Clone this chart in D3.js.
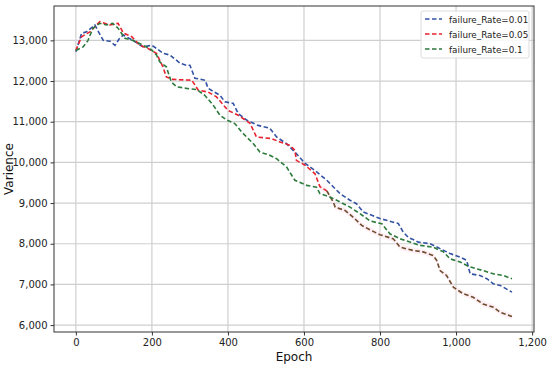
<!DOCTYPE html>
<html><head><meta charset="utf-8">
<script src="https://cdn.jsdelivr.net/npm/d3@7"></script>
<style>body{margin:0;background:#fff}svg{display:block}text{font-family:"DejaVu Sans",sans-serif}</style>
</head><body><svg id="c" width="550" height="367"></svg>
<script>
const xTicks=[0,200,400,600,800,1000,1200];
const yTicks=[6000,7000,8000,9000,10000,11000,12000,13000];
const seriesNames=["failure_Rate=0.01","failure_Rate=0.05","failure_Rate=0.1"];
const epochs01=[0,15,28,50,60,72,90,103,115,125,150,177,200,230,247,274,290,300,313,340,348,379,392,414,427,449,479,510,528,554,576,603,629,660,695,721,738,756,800,835,848,861,874,901,932,958,984,1011,1028,1037,1063,1081,1098,1116,1147];
const values01=[12720,13170,13210,13380,13200,13000,12980,12880,13050,13130,13000,12840,12880,12680,12640,12440,12390,12390,12070,12020,11820,11650,11490,11450,11200,11040,10910,10840,10625,10460,10255,9975,9800,9560,9230,9070,8985,8780,8620,8530,8500,8285,8160,8040,8000,7880,7760,7670,7590,7260,7220,7140,7015,6975,6810];
const epochs05=[0,15,37,63,89,111,125,147,168,190,212,229,238,255,305,322,348,370,400,427,458,475,515,537,563,576,580,603,629,642,660,677,682,708,729,752,774,800,835,853,887,913,940,949,958,975,993,1019,1045,1071,1098,1116,1147];
const values05=[12750,13090,13210,13460,13380,13420,13180,13090,12880,12800,12680,12350,12100,12040,12020,11775,11730,11610,11280,11160,10960,10625,10585,10500,10420,10300,10050,9930,9720,9400,9300,9025,8900,8820,8655,8450,8340,8220,8120,7915,7835,7800,7710,7590,7340,7220,6930,6770,6685,6520,6440,6315,6210];
const epochs1=[0,19,32,45,63,81,97,111,129,150,177,200,212,221,238,251,265,291,318,339,361,379,397,418,436,449,467,484,510,528,554,576,607,633,642,668,686,721,747,774,805,826,853,879,905,940,967,984,1011,1028,1041,1071,1098,1124,1147];
const values1=[12750,12840,13000,13300,13420,13380,13420,13300,13050,13000,12880,12760,12640,12470,12350,11980,11860,11820,11790,11650,11410,11160,11040,10955,10750,10625,10460,10255,10175,10090,9890,9560,9435,9390,9230,9150,9070,8900,8740,8560,8490,8245,8120,8040,7960,7915,7800,7630,7550,7465,7420,7340,7260,7220,7140];

const svg=d3.select("#c");
const L=54,T=6,R=534,B=332;
const x=d3.scaleLinear().domain([-57.5,1205]).range([L,R]);
const y=d3.scaleLinear().domain([5830,13845]).range([B,T]);

// grid
const g=svg.append("g");
g.selectAll(".vg").data(xTicks).enter().append("line")
 .attr("x1",d=>x(d)).attr("x2",d=>x(d)).attr("y1",T).attr("y2",B)
 .attr("stroke","#cfcfcf").attr("stroke-width",1.2);
g.selectAll(".hg").data(yTicks).enter().append("line")
 .attr("y1",d=>y(d)).attr("y2",d=>y(d)).attr("x1",L).attr("x2",R)
 .attr("stroke","#cfcfcf").attr("stroke-width",1.2);

// faint band around lower series
const d05=epochs05.map((e,i)=>[e,values05[i]]);
svg.append("path").datum(d05.filter(d=>d[0]>=640))
 .attr("fill","#fde6ee").attr("opacity",0.6)
 .attr("d",d3.area().x(d=>x(d[0])).y0(d=>y(d[1]-70)).y1(d=>y(d[1]+70)));

const line=d3.line().x(d=>x(d[0])).y(d=>y(d[1]));
function draw(data,color){
 svg.append("path").datum(data).attr("fill","none").attr("stroke",color)
  .attr("stroke-width",1.6).attr("stroke-dasharray","4.5,2.5").attr("d",line);
}
const d01=epochs01.map((e,i)=>[e,values01[i]]);
const d1=epochs1.map((e,i)=>[e,values1[i]]);
draw(d01,"#3352a4");
draw(d05.filter(d=>d[0]<=660),"#e8222e");
draw(d05.filter(d=>d[0]>=660),"#6e4b2c");
draw(d1,"#2c7a3c");

// axes
const xa=svg.append("g").attr("transform",`translate(0,${B})`)
 .call(d3.axisBottom(x).tickValues(xTicks).tickFormat(d3.format(",")).tickSize(3.5).tickPadding(3));
const ya=svg.append("g").attr("transform",`translate(${L},0)`)
 .call(d3.axisLeft(y).tickValues(yTicks).tickFormat(d3.format(",")).tickSize(3.5).tickPadding(3));
[xa,ya].forEach(a=>{a.select(".domain").remove();a.selectAll("text").attr("font-size",10).attr("fill","#222").attr("font-family","DejaVu Sans");a.selectAll("line").attr("stroke","#333");});
svg.append("rect").attr("x",L).attr("y",T).attr("width",R-L).attr("height",B-T)
 .attr("fill","none").attr("stroke","#333").attr("stroke-width",1);

svg.append("text").attr("x",(L+R)/2).attr("y",361).attr("text-anchor","middle").attr("font-size",12).attr("fill","#111").text("Epoch");
svg.append("text").attr("transform",`translate(13,${(T+B)/2}) rotate(-90)`).attr("text-anchor","middle").attr("font-size",12).attr("fill","#111").text("Varience");

// legend
const lg=svg.append("g");
lg.append("rect").attr("x",421).attr("y",11).attr("width",108).attr("height",47).attr("rx",2)
 .attr("fill","#fff").attr("fill-opacity",0.85).attr("stroke","#ddd");
const colors=["#3352a4","#e8222e","#2c7a3c"];
seriesNames.forEach((n,i)=>{
 const yy=19+i*15;
 lg.append("line").attr("x1",425).attr("x2",442).attr("y1",yy).attr("y2",yy)
  .attr("stroke",colors[i]).attr("stroke-width",1.5).attr("stroke-dasharray","4.5,2.5");
 lg.append("text").attr("x",449).attr("y",yy+3.5).attr("font-size",8.8).attr("fill","#222").text(n);
});
</script></body></html>
